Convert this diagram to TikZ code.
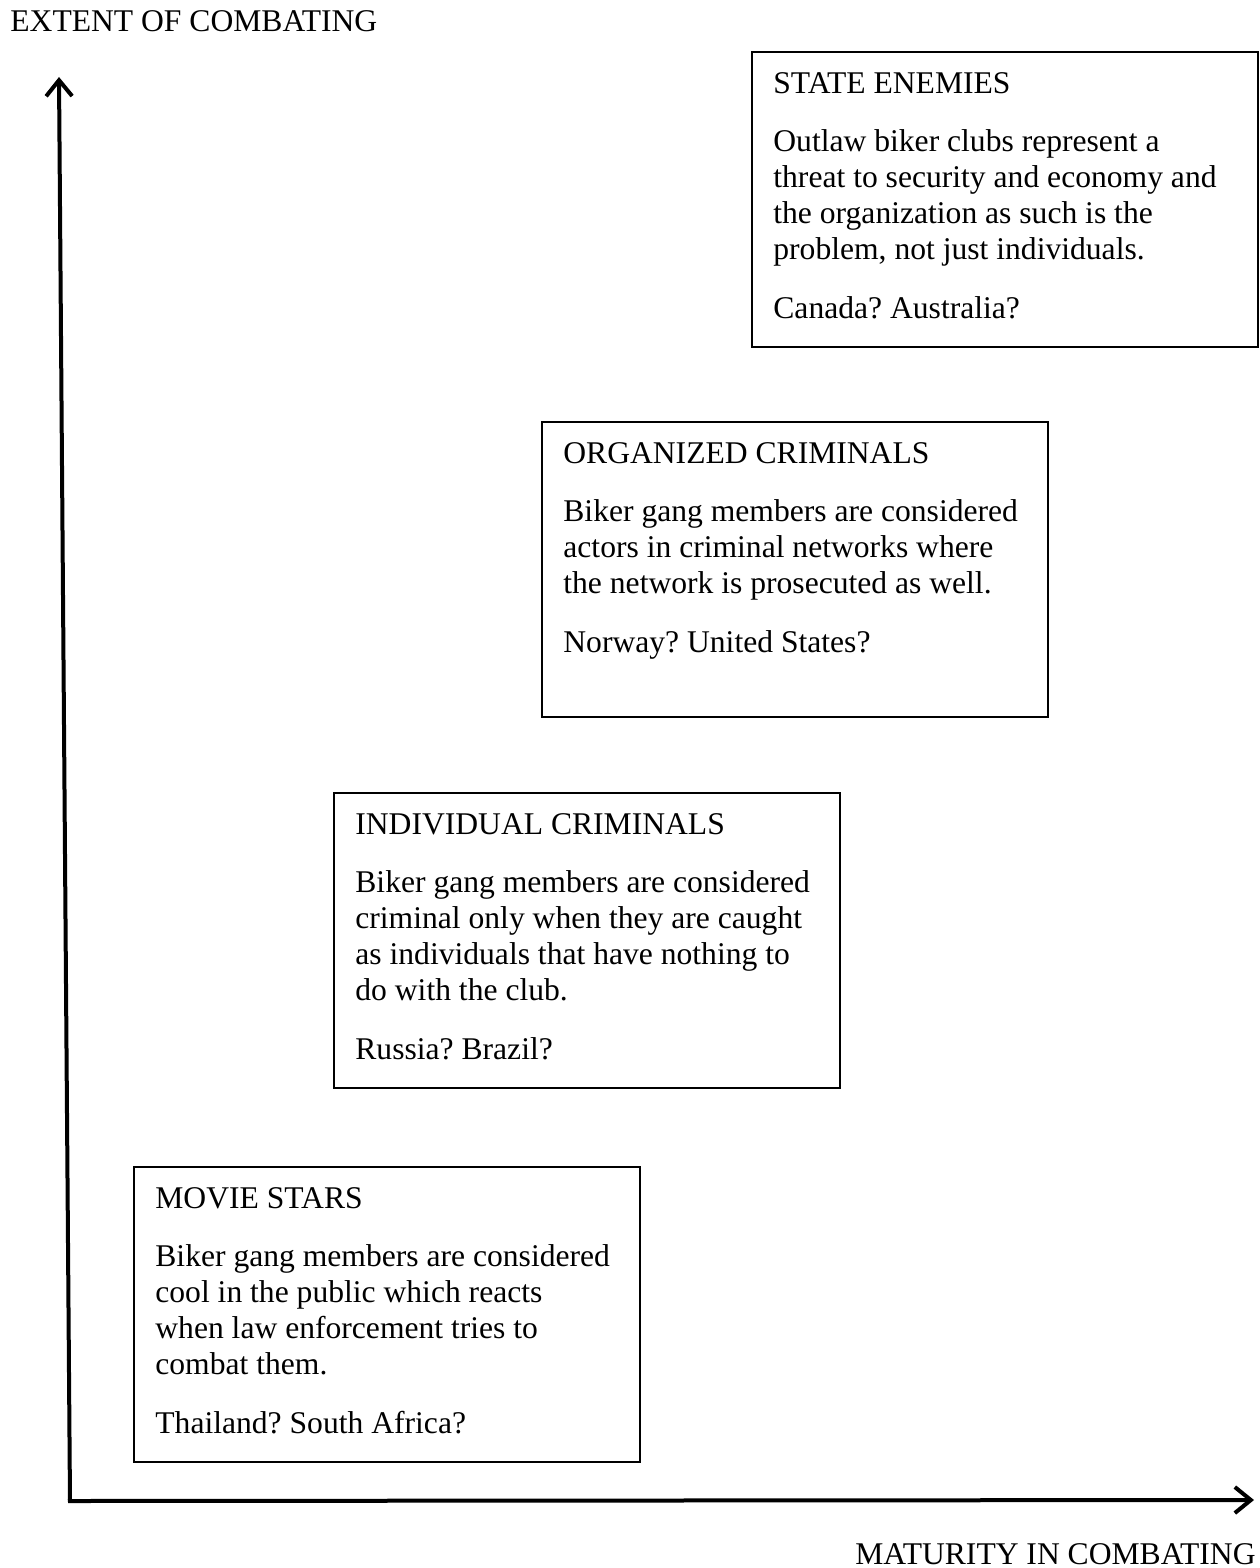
\documentclass[tikz,border=0pt]{standalone}
\usepackage{fontspec}
\setmainfont{Liberation Serif}
\usetikzlibrary{arrows.meta}
\frenchspacing
\tikzstyle{Box}=[draw,line width=1pt,anchor=north west,inner sep=0pt,
outer sep=0pt,minimum width=253pt,minimum height=147.5pt]
\tikzstyle{BoxText}=[anchor=north west,inner sep=0pt,align=left,
font=\fontsize{15.8pt}{17.9pt}\selectfont,xshift=10.5pt,yshift=-8.3pt]
\tikzstyle{Axis}=[line width=2pt,-{Straight Barb[length=8pt,width=13pt]}]
\tikzstyle{AxisLabel}=[inner sep=0pt,font=\fontsize{15.8pt}{17.9pt}\selectfont]
\newcommand{\Gap}{\\[11.5pt]}
\newcommand{\Top}{\rule{0pt}{12pt}}

\begin{document}
\begin{tikzpicture}[x=0.5pt,y=-0.5pt]
        \useasboundingbox (0,0) rectangle (1259,1568);
        % axes
        \coordinate(o)at(70,1502);
        \coordinate(yt)at(59,77);
        \coordinate(xo)at(68,1501);
        \coordinate(xt)at(1254,1500);
        \draw[Axis](o)--(yt);
        \draw[Axis](xo)--(xt);
        \node[AxisLabel,anchor=base west](ey)at(10,32){EXTENT OF COMBATING};
        \node[AxisLabel,anchor=base east](mx)at(1256,1564){MATURITY IN COMBATING};
        % boxes
        \node[Box](4)at(752,52){};
        \node[BoxText](4t)at(4.north west){\Top STATE ENEMIES\Gap
            Outlaw biker clubs represent a\\
            threat to security and economy and\\
            the organization as such is the\\
            problem, not just individuals.\Gap
            Canada? Australia?};
        \node[Box](3)at(542,422){};
        \node[BoxText](3t)at(3.north west){\Top ORGANIZED CRIMINALS\Gap
            Biker gang members are considered\\
            actors in criminal networks where\\
            the network is prosecuted as well.\Gap
            Norway? United States?};
        \node[Box](2)at(334,793){};
        \node[BoxText](2t)at(2.north west){\Top INDIVIDUAL CRIMINALS\Gap
            Biker gang members are considered\\
            criminal only when they are caught\\
            as individuals that have nothing to\\
            do with the club.\Gap
            Russia? Brazil?};
        \node[Box](1)at(134,1167){};
        \node[BoxText](1t)at(1.north west){\Top MOVIE STARS\Gap
            Biker gang members are considered\\
            cool in the public which reacts\\
            when law enforcement tries to\\
            combat them.\Gap
            Thailand? South Africa?};
    \end{tikzpicture}
\end{document}
